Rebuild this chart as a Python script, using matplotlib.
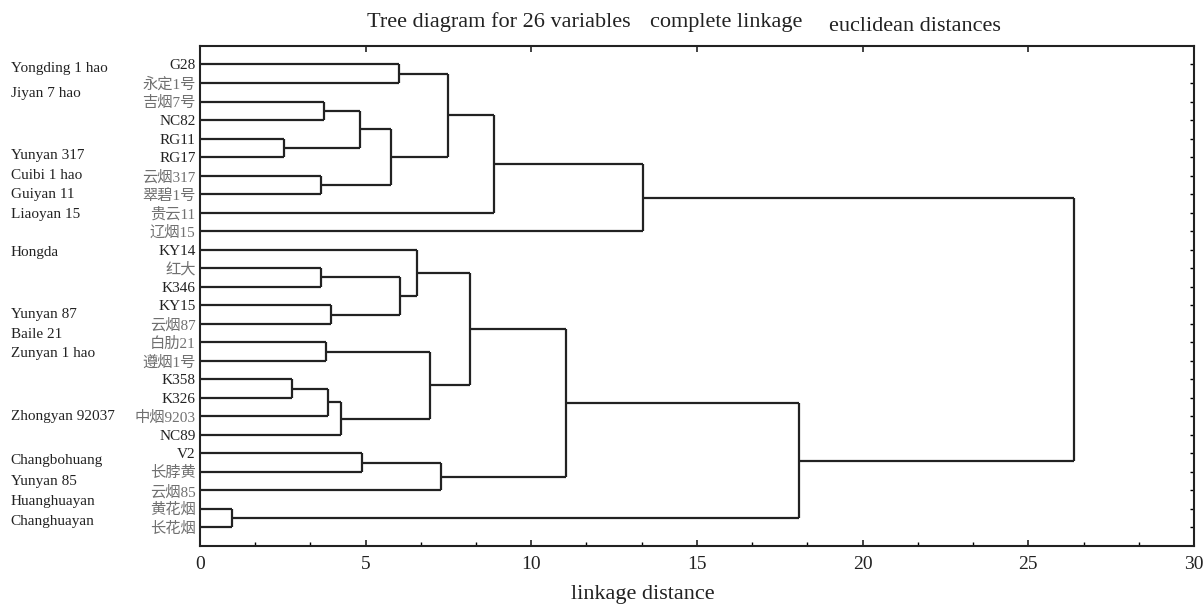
import matplotlib
matplotlib.use('Agg')
import matplotlib.pyplot as plt
import matplotlib.transforms as mtransforms
from matplotlib.ticker import MultipleLocator

# leaves, top to bottom
leaves = ['G28', '永定1号', '吉烟7号', 'NC82', 'RG11', 'RG17', '云烟317', '翠碧1号',
          '贵云11', '辽烟15', 'KY14', '红大', 'K346', 'KY15', '云烟87', '白肋21',
          '遵烟1号', 'K358', 'K326', '中烟9203', 'NC89', 'V2', '长脖黄', '云烟85',
          '黄花烟', '长花烟']

# merges: node ids 26.. in order; children are leaf index or earlier node id
merge_left = [0, 2, 4, 27, 6, 29, 26, 32, 33,
              11, 13, 35, 10, 15, 17, 40, 41, 39, 38,
              21, 45, 44, 24, 47, 34]
merge_right = [1, 3, 5, 28, 7, 30, 31, 8, 9,
               12, 14, 36, 37, 16, 18, 19, 20, 42, 43,
               22, 23, 46, 25, 48, 49]
merge_height = [6.01, 3.74, 2.54, 4.83, 3.65, 5.77, 7.49, 8.87, 13.37,
                3.65, 3.95, 6.04, 6.55, 3.80, 2.78, 3.86, 4.26, 6.94, 8.15,
                4.89, 7.27, 11.05, 0.97, 18.08, 26.38]

# English names shown in the left column
english_names = ['Yongding 1 hao', 'Jiyan 7 hao', 'Yunyan 317', 'Cuibi 1 hao',
                 'Guiyan 11', 'Liaoyan 15', 'Hongda', 'Yunyan 87', 'Baile 21',
                 'Zunyan 1 hao', 'Zhongyan 92037', 'Changbohuang', 'Yunyan 85',
                 'Huanghuayan', 'Changhuayan']
english_rows = [0.22, 1.55, 4.94, 5.97, 7.03, 8.11, 10.14, 13.48, 14.56,
                15.63, 18.98, 21.4, 22.54, 23.6, 24.7]

serif = ['Liberation Serif', 'Noto Sans CJK SC', 'DejaVu Sans']
plt.rcParams['font.family'] = serif

fig = plt.figure(figsize=(12.04, 6.05), dpi=100)
ax = fig.add_axes([0.166, 0.0975, 0.8257, 0.8265])

line_kw = dict(color='#222222', lw=1.6, solid_capstyle='butt')
n = len(leaves)
pos_y = {i: float(i) for i in range(n)}
pos_x = {i: 0.0 for i in range(n)}
for k, (a, b, h) in enumerate(zip(merge_left, merge_right, merge_height)):
    node = n + k
    ya, yb = pos_y[a], pos_y[b]
    ax.plot([pos_x[a], h], [ya, ya], **line_kw)
    ax.plot([pos_x[b], h], [yb, yb], **line_kw)
    ax.plot([h, h], [ya, yb], **line_kw)
    pos_y[node] = (ya + yb) / 2
    pos_x[node] = h

ax.set_xlim(0, 30)
ax.set_ylim(n, -1)
for s in ax.spines.values():
    s.set_linewidth(1.5)
    s.set_color('#222222')

ax.xaxis.set_major_locator(MultipleLocator(5))
ax.xaxis.set_minor_locator(MultipleLocator(5 / 3))
ax.tick_params(axis='x', which='major', direction='in', length=4, width=1.2,
               labelsize=14, pad=7, top=True, colors='#222222')
ax.tick_params(axis='x', which='minor', direction='in', length=3, width=1.0,
               top=False)

ax.set_yticks(range(n))
ax.set_yticklabels(leaves, fontsize=11)
ax.tick_params(axis='y', direction='in', length=3, width=1.0, left=False,
               right=True, pad=3)
for lbl in ax.get_yticklabels():
    txt = lbl.get_text()
    if any(ord(c) > 0x2e80 for c in txt):
        lbl.set_color('#707070')
    else:
        lbl.set_color('#222222')

trans = mtransforms.blended_transform_factory(fig.transFigure, ax.transData)
for name, row in zip(english_names, english_rows):
    ax.text(0.009, row, name, transform=trans, ha='left', va='center',
            fontsize=11, color='#222222', clip_on=False)

fig.text(367 / 1204, 1 - 27 / 605, 'Tree diagram for 26 variables',
         fontsize=16, ha='left', va='baseline', color='#222222')
fig.text(650 / 1204, 1 - 27 / 605, 'complete linkage',
         fontsize=16, ha='left', va='baseline', color='#222222')
fig.text(829 / 1204, 1 - 31 / 605, 'euclidean distances',
         fontsize=16, ha='left', va='baseline', color='#222222')
fig.text(643 / 1204, 1 - 594 / 605, 'linkage distance',
         fontsize=16, ha='center', va='center', color='#222222')

fig.savefig('out.png', dpi=100)
